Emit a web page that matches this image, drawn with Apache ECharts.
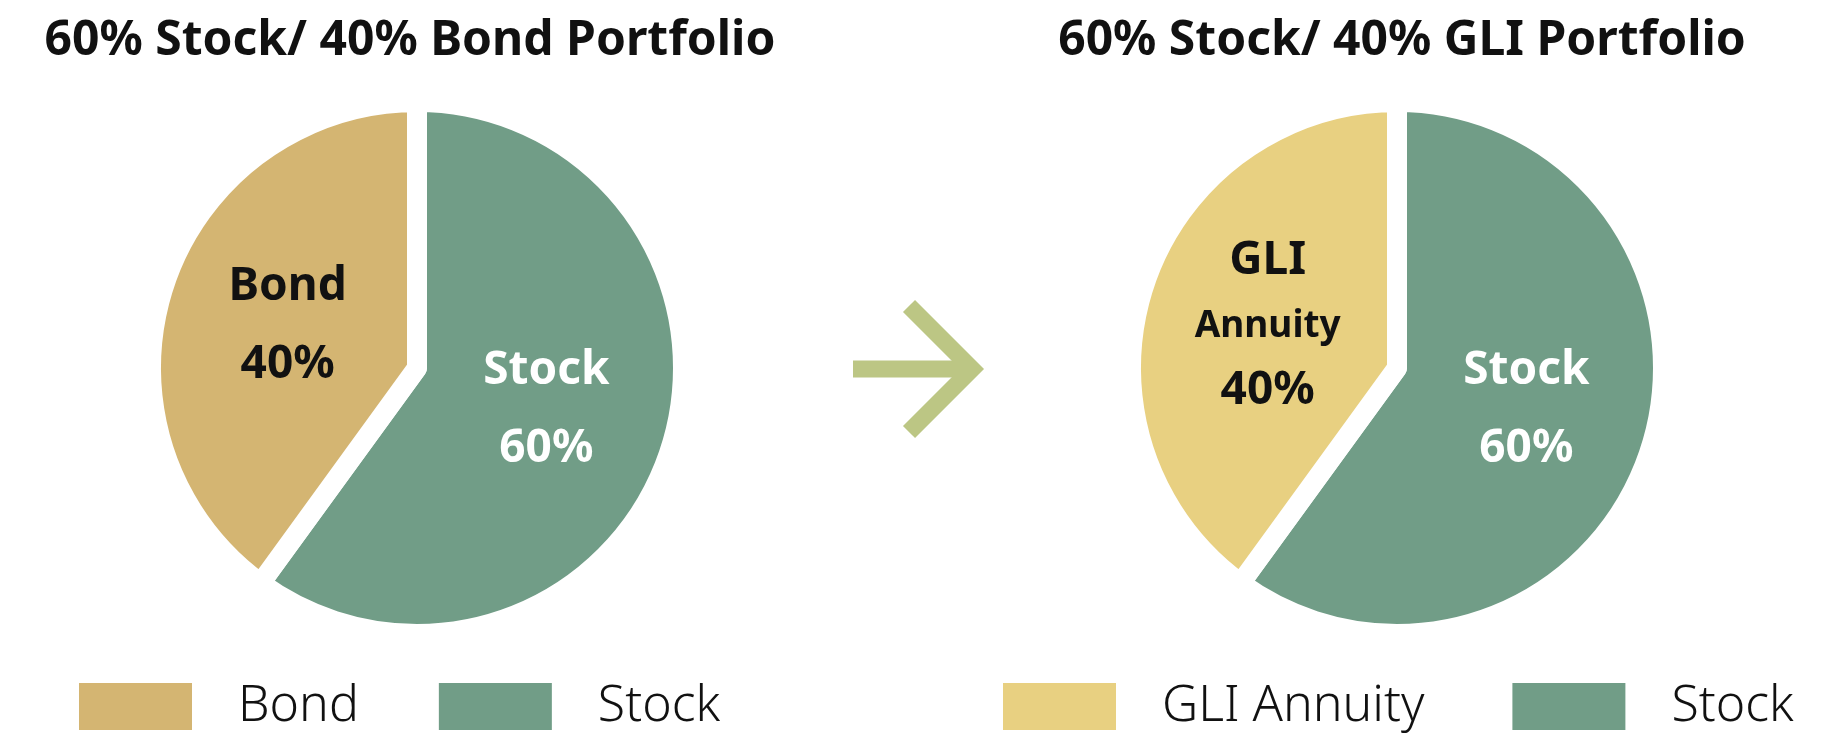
<!DOCTYPE html>
<html><head><meta charset="utf-8">
<script src="https://cdn.jsdelivr.net/npm/echarts@6/dist/echarts.min.js"></script>
<style>html,body{margin:0;padding:0;background:#fff}#c{width:1832px;height:752px}</style>
</head><body><div id="c"></div>
<script>
const titles = ['60% Stock/ 40% Bond Portfolio', '60% Stock/ 40% GLI Portfolio'];
const leftNames = ['Stock', 'Bond'];
const leftValues = [60, 40];
const rightNames = ['Stock', 'GLI Annuity'];
const rightValues = [60, 40];
const colors = {Stock: '#719d87', Bond: '#d4b572', 'GLI Annuity': '#e8d081'};
const F = '"Noto Sans", sans-serif';

const chart = echarts.init(document.getElementById('c'));
function labelFor(name, v, dark) {
  const c = dark ? '#111' : '#fff';
  if (name === 'GLI Annuity') {
    return {formatter: '{a|GLI}\n{b|Annuity}\n{a|' + v + '%}', rich: {
      a: {fontSize: 46, fontWeight: 'bold', color: c, fontFamily: F, lineHeight: 70},
      b: {fontSize: 37, fontWeight: 'bold', color: c, fontFamily: F, lineHeight: 60}}};
  }
  return {formatter: '{a|' + name + '}\n{a|' + v + '%}', rich: {
    a: {fontSize: 46, fontWeight: 'bold', color: c, fontFamily: F, lineHeight: 78}}};
}
function mk(names, vals, center, id) {
  return {type: 'pie', id, radius: [0, 266], center, startAngle: 90, clockwise: true,
    label: {show: true, position: 'inside'}, labelLine: {show: false}, silent: true,
    itemStyle: {borderColor: '#fff', borderWidth: 20},
    data: names.map((n, i) => ({name: n, value: vals[i], itemStyle: {color: colors[n]},
      label: labelFor(n, vals[i], n !== 'Stock')}))};
}
const legText = {fontSize: 50, fontFamily: F, fontWeight: 300, color: '#111', padding: [0, 0, 0, 40]};
const tStyle = {fontSize: 48, fontWeight: 'bold', fontFamily: F, color: '#111'};
chart.setOption({
  animation: false,
  title: [
    {text: titles[0], left: 405, top: 12, textAlign: 'center', textStyle: tStyle},
    {text: titles[1], left: 1397, top: 12, textAlign: 'center', textStyle: tStyle}
  ],
  legend: [
    {left: 72, top: 676, itemWidth: 115, itemHeight: 49, itemGap: 78, icon: 'rect', data: ['Bond', 'Stock'], textStyle: legText, selectedMode: false},
    {left: 996, top: 676, itemWidth: 115, itemHeight: 49, itemGap: 86, icon: 'rect', data: ['GLI Annuity', 'Stock'], textStyle: legText, selectedMode: false}
  ],
  series: [mk(leftNames, leftValues, [417, 368], 'l'), mk(rightNames, rightValues, [1397, 368], 'r')],
  graphic: [
    {type: 'line', shape: {x1: 853, y1: 369, x2: 975, y2: 369}, style: {stroke: '#bcc684', lineWidth: 17}},
    {type: 'polyline', shape: {points: [[909, 306], [972, 369], [909, 432]]}, style: {stroke: '#bcc684', lineWidth: 17, fill: null}}
  ]
});
</script></body></html>
